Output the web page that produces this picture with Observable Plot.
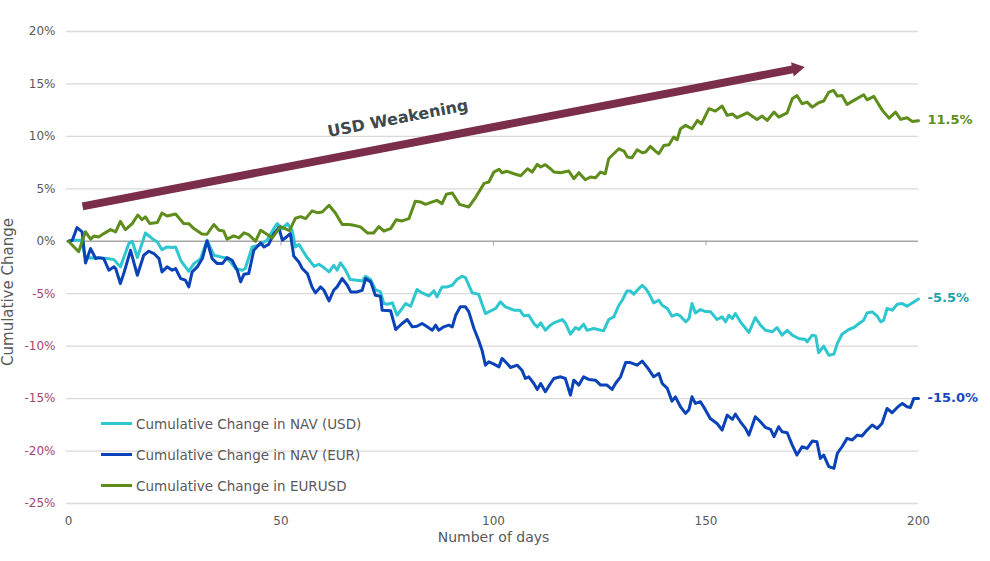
<!DOCTYPE html>
<html>
<head>
<meta charset="utf-8">
<script src="https://cdn.jsdelivr.net/npm/d3@7"></script>
<script src="https://cdn.jsdelivr.net/npm/@observablehq/plot@0.6"></script>
<style>
  html, body { margin: 0; padding: 0; background: #fff; }
  #wrap { position: relative; width: 990px; height: 561px; font-family: "DejaVu Sans", sans-serif; }
  #wrap svg { position: absolute; left: 0; top: 0; }
  #legend { position: absolute; left: 101px; top: 408px; color: #595959; font-size: 13.5px; }
  .row { display: flex; align-items: center; height: 31px; }
  .sw { width: 31px; height: 3px; margin-right: 4px; }
  #ylabel { position: absolute; left: 8px; top: 292px; white-space: nowrap; color: #595959; font-size: 15px;
            transform: translate(-50%, -50%) rotate(-90deg); }
</style>
</head>
<body>
<div id="wrap"><div id="legend"></div><div id="ylabel"></div></div>
<script>
// ---- data (day, cumulative change in %) ----
const navUsd = [
  [0,0],[1.3,0.1],[3,0.1],[4,-1.6],[6,-1.56],[9.1,-1.65],[10.7,-1.75],[12.2,-2.44],[14.2,-0.22],[15,0],
  [16.2,-1.56],[18.1,0.79],[19.7,0.25],[20.9,-0.06],[22,-0.8],[23.2,-0.54],[24.4,-0.6],[25.2,-0.54],
  [26.4,-1.81],[28.3,-2.86],[29.5,-2.13],[31.1,-1.65],[32.6,0.1],[34.2,-1.33],[35.8,-1.49],[36.9,-1.56],
  [38.1,-1.97],[39.3,-2.6],[40.9,-2.76],[41.6,-2.6],[43.2,-0.54],[44.8,-0.38],[46.7,0.1],[48.3,1.2],
  [49.1,1.68],[50.3,1.2],[51.5,1.68],[52.6,1.05],[53.4,-0.54],[54.2,-0.29],[55.9,-1.4],[57.8,-2.4],
  [58.9,-2.19],[60.1,-2.51],[61.3,-2.92],[62.4,-2.29],[63.2,-2.76],[64,-2.06],[65.2,-2.76],[66.3,-3.65],
  [67.9,-3.71],[69.1,-3.78],[69.9,-3.33],[71.1,-3.65],[72.2,-4.6],[73.4,-4.83],[74.2,-5.94],[75,-6.0],
  [76.2,-5.87],[77.3,-7.05],[78.5,-6.41],[79.3,-5.94],[80.5,-6.19],[82,-4.6],[83.2,-4.92],[84.8,-5.21],
  [86,-4.73],[86.7,-5.3],[87.9,-4.35],[89.1,-4.35],[90.3,-4.19],[91.4,-3.65],[92.6,-3.33],[93.4,-3.46],
  [95,-4.92],[96.5,-5.05],[98.1,-6.89],[98.9,-6.73],[100.5,-6.41],[101.6,-5.78],[102.8,-6.25],
  [104.8,-6.57],[106.2,-6.57],[107.1,-7.1],[108.3,-7.05],[109.5,-7.84],[110.3,-8.16],[111.1,-7.78],
  [112.2,-8.48],[113.4,-8.0],[114.2,-7.78],[116.2,-7.46],[116.9,-7.78],[118.1,-8.86],[119.3,-8.22],
  [120.1,-8.41],[121.2,-7.9],[122,-8.48],[123.6,-8.32],[125.9,-8.54],[127.1,-7.46],[128.3,-7.21],
  [129.5,-6.1],[130.3,-5.62],[131.4,-4.73],[132.2,-4.73],[133,-5.05],[134.2,-4.51],[135,-4.19],
  [135.8,-4.51],[136.5,-4.92],[137.7,-5.87],[138.9,-5.62],[139.7,-6.1],[140.9,-6.41],[142,-7.14],
  [143.2,-6.95],[144,-7.14],[145.2,-7.68],[146,-7.37],[146.7,-5.94],[147.5,-6.83],[148.7,-6.51],
  [149.9,-6.7],[151.1,-6.73],[152.6,-7.46],[153.8,-7.21],[154.6,-7.68],[155.4,-7.05],[156.2,-7.37],
  [156.9,-6.89],[158.1,-7.68],[160.1,-8.7],[161.6,-7.27],[162.8,-8.0],[164,-8.48],[165.6,-8.63],
  [166.7,-8.22],[167.9,-8.95],[169.1,-8.48],[170.3,-8.95],[171.8,-9.27],[173.4,-9.37],[173.8,-9.59],
  [175,-8.95],[175.8,-9.02],[176.5,-10.63],[177.7,-10.0],[178.9,-10.86],[180.1,-10.76],[180.9,-9.75],
  [182,-8.86],[183.6,-8.41],[184.8,-8.22],[186,-7.84],[187.1,-7.52],[187.9,-6.83],[189.1,-6.73],
  [190.3,-7.14],[191.1,-7.68],[191.8,-7.52],[192.6,-6.41],[193.8,-6.57],[195,-6.0],[196.2,-5.94],
  [197.3,-6.19],[198.9,-5.78],[200,-5.5]
];
const navEur = [
  [0,0],[0.9,0.1],[2,1.3],[3.2,0.9],[4,-2.06],[5.2,-0.7],[6.4,-1.65],[7.1,-1.56],[8.3,-1.65],[9.5,-2.76],
  [10.7,-2.44],[11.1,-2.6],[12.2,-4.03],[13,-3.08],[14.6,-0.86],[16.2,-3.24],[17.7,-1.33],[18.9,-0.95],
  [20.1,-1.17],[21.3,-1.65],[22,-2.92],[23.2,-2.44],[24.4,-2.76],[25.2,-2.6],[26.4,-3.56],[27.5,-3.71],
  [28.3,-4.35],[29.1,-2.92],[30.3,-2.44],[31.5,-1.65],[32.6,0.03],[33.8,-1.65],[35,-2.13],[36.2,-2.13],
  [37.3,-1.56],[38.5,-1.81],[39.7,-2.76],[40.5,-3.87],[41.3,-3.14],[42.4,-3.08],[43.6,-0.86],
  [45.2,-0.16],[46,-0.54],[47.1,-0.29],[48.3,0.73],[49.5,1.3],[50.3,0.1],[51.5,0.48],[52.2,0.73],
  [53,-1.4],[54.2,-1.97],[55,-2.6],[56.2,-3.08],[57.3,-4.35],[58.1,-4.92],[59.3,-4.35],[60.1,-4.67],
  [61.3,-5.68],[62.4,-4.67],[63.2,-4.35],[64.4,-3.56],[65.6,-4.19],[66.4,-4.83],[67.9,-4.83],
  [69.1,-4.67],[69.9,-3.56],[71.1,-3.87],[72.2,-5.14],[73.4,-5.24],[73.8,-6.57],[75.8,-6.63],[77,-8.41],
  [78.5,-7.84],[79.7,-7.46],[80.9,-8.16],[82,-8.1],[83.2,-7.84],[84.4,-8.16],[85.6,-8.48],[86.4,-8.0],
  [87.1,-8.48],[88.3,-8.16],[89.5,-8.0],[90.3,-8.16],[91.1,-7.05],[92.2,-6.25],[93.4,-6.25],
  [94.2,-6.73],[95.4,-8.32],[96.5,-9.43],[97.3,-10.38],[98.1,-11.81],[98.9,-11.49],[100.1,-11.71],
  [101.3,-11.97],[102,-11.17],[103.2,-11.65],[104,-12.03],[105.6,-11.81],[106.7,-12.29],[107.5,-13.08],
  [108.3,-12.92],[109.5,-13.56],[110.3,-14.13],[111.1,-13.56],[112.2,-14.35],[113.4,-13.56],
  [114.2,-13.08],[115.8,-12.92],[116.9,-13.08],[118.1,-14.67],[118.9,-13.24],[120.1,-13.71],
  [121.2,-12.92],[122.4,-13.17],[124,-13.24],[125.2,-13.71],[126.7,-13.71],[127.9,-14.13],
  [128.7,-13.56],[129.9,-12.92],[131.1,-11.56],[132.2,-11.56],[133.8,-11.81],[135,-11.43],
  [136.2,-12.03],[137.7,-12.92],[138.9,-12.6],[139.7,-13.56],[140.9,-14.03],[142,-15.24],
  [142.8,-14.83],[144,-15.78],[145.2,-16.41],[146,-16.03],[146.7,-14.83],[147.5,-15.46],[148.7,-15.3],
  [149.9,-16.1],[151,-16.89],[152.6,-17.37],[153.8,-18.0],[155,-16.57],[156.2,-16.98],[156.9,-16.48],
  [158.1,-17.21],[159.3,-17.84],[160.1,-18.48],[161.6,-16.73],[162.8,-17.21],[164,-17.75],
  [165.2,-17.94],[166,-18.63],[167.1,-17.68],[167.9,-18.16],[169.1,-18.25],[170.3,-19.43],
  [171.4,-20.38],[172.6,-19.59],[173.8,-19.75],[175,-19.05],[176.1,-19.11],[176.9,-20.7],
  [177.7,-20.38],[178.9,-21.49],[180.1,-21.65],[180.9,-20.22],[182,-19.59],[183.2,-18.79],
  [184.4,-18.95],[185.6,-18.48],[186.7,-18.57],[187.9,-18.0],[189.1,-17.52],[190.3,-17.84],
  [191.4,-17.37],[192.6,-15.94],[193.8,-16.35],[195,-15.84],[196.2,-15.46],[197.3,-15.78],
  [198.1,-15.84],[198.9,-14.98],[200,-15.0]
];
const eurUsd = [
  [0,0],[2.4,-1.0],[4,0.9],[5.2,0.2],[6,0.5],[7.1,0.41],[8.3,0.73],[9.9,1.11],[11.1,0.89],[12.2,1.9],
  [13.4,1.1],[15,1.68],[16.3,2.5],[17.3,2.06],[18.1,2.32],[19.1,1.7],[20.9,1.78],[22,2.7],[23.2,2.41],
  [25.2,2.6],[27.1,1.7],[28.3,1.68],[29.5,1.21],[31.4,0.7],[32.6,0.67],[34.2,1.6],[35.4,1.05],
  [36.5,0.98],[37.3,0.2],[38.9,0.51],[40.1,0.32],[41.3,0.8],[42.4,0.63],[44,0],[45.2,1.05],[46.7,0.67],
  [47.9,0.3],[49.9,1.4],[52,1.02],[53.4,2.2],[54.6,2.35],[55.8,2.16],[57.3,2.9],[58.5,2.73],
  [59.7,2.79],[61.3,3.43],[62.8,2.7],[64.4,1.59],[66,1.59],[67.1,1.52],[68.7,1.37],[70.3,0.79],
  [71.8,0.79],[73,1.4],[74.2,0.98],[75.8,1.21],[77.1,2.06],[78.5,1.94],[80.1,2.16],[81.6,3.81],
  [82.8,3.75],[84,3.52],[85.6,3.75],[86.7,3.9],[87.9,3.59],[88.9,4.48],[90.3,4.6],[92,3.52],[94.2,3.27],
  [95.8,4.19],[97.8,5.52],[98.9,5.65],[100.1,6.6],[101.3,6.86],[102,6.54],[103.2,6.67],[104.8,6.44],
  [106.4,6.25],[108,6.92],[109.1,6.6],[110.3,7.33],[111.1,7.08],[112.2,7.3],[113.4,6.92],[114.2,6.6],
  [115.8,6.54],[117.7,6.7],[118.9,5.97],[120.1,6.54],[121.6,5.87],[122.8,6.13],[124,6.06],[125.2,6.6],
  [126.3,6.44],[127.1,7.87],[128.3,8.35],[129.5,8.82],[130.7,8.6],[131.5,8.03],[132.6,7.97],
  [133.8,8.73],[135,8.44],[135.8,8.51],[136.9,9.05],[138.1,8.6],[138.9,8.35],[140.1,9.14],[141.3,9.21],
  [142.4,9.94],[143.2,9.68],[144,10.73],[145.2,11.05],[146.7,10.73],[148,11.52],[148.9,11.18],
  [150.7,12.64],[152.2,12.41],[153.8,12.89],[155,12.0],[156.2,12.14],[157.3,11.78],[159.7,12.25],
  [162,11.62],[163.2,11.94],[164.4,11.52],[166,12.32],[167.1,11.84],[169.1,12.25],[170.3,13.59],
  [171.4,13.9],[172.6,13.11],[173.8,13.27],[175,12.79],[176.5,13.21],[177.7,13.37],[178.9,14.22],
  [180,14.38],[180.9,13.84],[182,13.9],[183.2,13.05],[184.8,13.43],[187.1,13.97],[187.9,13.49],
  [189.5,13.81],[191.5,12.48],[193.1,11.74],[194.6,12.32],[195.8,11.62],[197.3,11.78],[198.5,11.43],
  [200,11.5]
];

const seriesNames = ["Cumulative Change in NAV (USD)", "Cumulative Change in NAV (EUR)", "Cumulative Change in EURUSD"];
const seriesColors = ["#2ec7cf", "#0a42b8", "#5e8d1b"];
const labelColors = ["#1fa3ab", "#1a45bf", "#5e8d1b"];
const endLabels = ["-5.5%", "-15.0%", "11.5%"];

const yTicksPos = [0, 5, 10, 15, 20];
const yTicksNeg = [-25, -20, -15, -10, -5];
const xTicks = [0, 50, 100, 150, 200];
const xTickMarks = [50, 100, 150];
const xLabel = "Number of days";
const yLabel = "Cumulative Change";

// annotation arrow (start day/%, head day/%) and its caption
const arrowLine = [{x1: 3.3, y1: 3.33, x2: 171.3, y2: 16.46, text: "USD Weakening", tx: 77.5, ty: 11.7}];

const series = [navUsd, navEur, eurUsd];
const ends = series.map((s, i) => ({x: s[s.length - 1][0], y: s[s.length - 1][1], text: endLabels[i], color: labelColors[i]}));

const font = "DejaVu Sans, sans-serif";
const chart = Plot.plot({
  width: 990,
  height: 561,
  marginLeft: 68,
  marginRight: 72,
  marginTop: 31,
  marginBottom: 58,
  x: {domain: [0, 200]},
  y: {domain: [-25, 20]},
  style: {fontFamily: font, background: "white"},
  marks: [
    Plot.ruleY([...yTicksNeg, ...yTicksPos.filter(d => d !== 0)], {stroke: "#d9d9d9", strokeWidth: 1.3, insetLeft: -2}),
    Plot.ruleY([0], {stroke: "#a6a6a6", strokeWidth: 1.6, insetLeft: -2}),
    Plot.ruleX(xTickMarks, {y1: 0, y2: -0.45, stroke: "#a6a6a6", strokeWidth: 1}),
    Plot.axisY(yTicksPos, {tickSize: 0, tickPadding: 13, tickFormat: d => d + "%", fill: "#595959", fontSize: 12, label: null}),
    Plot.axisY(yTicksNeg, {tickSize: 0, tickPadding: 13, tickFormat: d => d + "%", fill: "#a3456e", fontSize: 12, label: null}),
    Plot.axisX(xTicks, {tickSize: 0, tickPadding: 13, fill: "#595959", fontSize: 12, label: null}),
    Plot.text([xLabel], {frameAnchor: "bottom", dy: 38, fill: "#595959", fontSize: 14}),
    ...series.map((s, i) => Plot.line(s, {x: d => d[0], y: d => d[1], stroke: seriesColors[i], strokeWidth: 3, strokeLinejoin: "round"})),
    Plot.text(ends, {x: "x", y: "y", text: "text", fill: "color", dx: 9, dy: -1, textAnchor: "start", fontSize: 13, fontWeight: "bold"}),
    Plot.link(arrowLine, {x1: "x1", y1: "y1", x2: "x2", y2: "y2", stroke: "#7b2e4c", strokeWidth: 8, strokeLinecap: "butt"}),
    Plot.dot(arrowLine, {x: "x2", y: "y2", symbol: "triangle", r: 5.4, rotate: 79, fill: "#7b2e4c", stroke: null}),
    Plot.text(arrowLine, {x: "tx", y: "ty", text: "text", rotate: -10.9, fill: "#3e494e", fontSize: 16, fontWeight: "bold"})
  ]
});
document.getElementById("wrap").prepend(chart);

document.getElementById("ylabel").textContent = yLabel;
const legend = document.getElementById("legend");
seriesNames.forEach((name, i) => {
  const row = document.createElement("div");
  row.className = "row";
  row.innerHTML = `<span class="sw" style="background:${seriesColors[i]}"></span><span>${name}</span>`;
  legend.appendChild(row);
});
</script>
</body>
</html>
